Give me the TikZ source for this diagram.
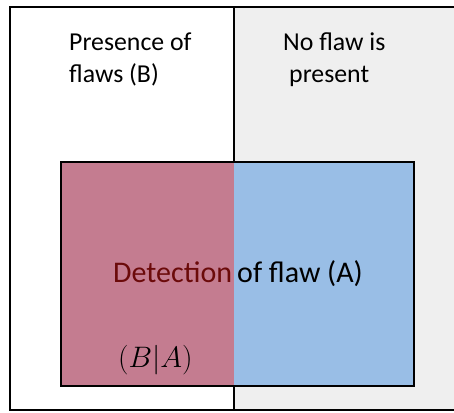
\documentclass[tikz,border=0pt]{standalone}
\usepackage{fontspec}
\setmainfont{Carlito}
\definecolor{bggray}{HTML}{EFEFEF}
\definecolor{pinkfill}{HTML}{C47C90}
\definecolor{bluefill}{HTML}{99BEE6}
\definecolor{darkred}{HTML}{6B0A0A}
\tikzset{
  toptext/.style={anchor=base west, inner sep=0pt, font=\fontsize{25.8}{31}\selectfont},
  midtext/.style={anchor=base west, inner sep=0pt, font=\fontsize{30}{36}\selectfont},
  frame/.style={line width=2.2pt, draw=black},
}
\begin{document}
\begin{tikzpicture}[x=1pt,y=-1pt]
\useasboundingbox (0,0) rectangle (454,412);
% background cells
\fill[white] (0,0) rectangle (454,412);
\fill[bggray] (234,7) rectangle (456,410);
\draw[frame] (456,7) -- (10,7) -- (10,410) -- (456,410);
\draw[frame] (234,7) -- (234,410);
% detection rectangle
\fill[pinkfill] (61,162) rectangle (234,386);
\fill[bluefill] (234,162) rectangle (414,386);
\draw[frame] (61,162) rectangle (414,386);
% texts
\node[toptext] (p1) at (69,50) {Presence of};
\node[toptext] (p2) at (69,82) {flaws (B)};
\node[toptext] (n1) at (283,50) {No flaw is};
\node[toptext] (n2) at (289,82) {present};
\node[midtext, text=darkred] (d1) at (113,282) {Detection};
\node[midtext] (d2) at (237,282) {of flaw (A)};
\node[midtext] (ba) at (118,367) {\scalebox{1.19}{$(B|A)$}};
\end{tikzpicture}
\end{document}
